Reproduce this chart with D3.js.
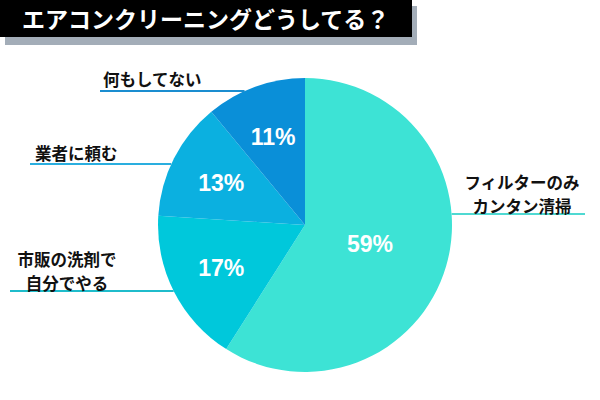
<!DOCTYPE html>
<html>
<head>
<meta charset="utf-8">
<script src="https://cdn.jsdelivr.net/npm/d3@7"></script>
<style>
  body { margin: 0; background: #fff; }
  svg { display: block; }
</style>
</head>
<body>
<svg id="chart" width="600" height="400"></svg>
<script>
// data
var title = "エアコンクリーニングどうしてる？";
var categories = [["フィルターのみ", "カンタン清掃"], ["市販の洗剤で", "自分でやる"], ["業者に頼む"], ["何もしてない"]];
var values = [59, 17, 13, 11];
var colors = ["#3de3d5", "#00c8db", "#0bb0e0", "#0a8fd8"];
var lineColors = ["#4fd9d2", "#1fbccb", "#2aaedf", "#1a8dd0"];

var width = 600,
	height = 400,
	cx = 305,
	cy = 225,
	R = 147;

var svg = d3.select("#chart");

// 1. title box with shadow
svg.append("rect")
	.attr("x", 5).attr("y", 6)
	.attr("width", 412).attr("height", 39)
	.attr("fill", "#a3adb8");
svg.append("rect")
	.attr("x", 0).attr("y", 0)
	.attr("width", 412).attr("height", 37)
	.attr("fill", "#000");
svg.append("text")
	.attr("x", 22).attr("y", 28)
	.attr("fill", "#fff")
	.style("font-family", "'Noto Sans CJK JP', sans-serif")
	.style("font-weight", "bold")
	.style("font-size", "23px")
	.text(title);

// 2. pie
var pie = d3.pie().sort(null).value(function(d) { return d; });
var arcs = pie(values);
var arc = d3.arc().innerRadius(0).outerRadius(R);

var g = svg.append("g").attr("transform", "translate(" + cx + "," + cy + ")");

g.selectAll("path")
	.data(arcs)
	.enter()
	.append("path")
	.attr("d", arc)
	.attr("fill", function(d, i) { return colors[i]; });

// 3. percent labels (big slice sits closer to the middle)
var labelArc = d3.arc().innerRadius(R * 0.64).outerRadius(R * 0.64);
var bigArc = d3.arc().innerRadius(R * 0.46).outerRadius(R * 0.46);

g.selectAll("text.pct")
	.data(arcs)
	.enter()
	.append("text")
	.attr("class", "pct")
	.attr("transform", function(d) {
		var c = d.value > 50 ? bigArc.centroid(d) : labelArc.centroid(d);
		return "translate(" + c[0] + "," + c[1] + ")";
	})
	.attr("text-anchor", "middle")
	.attr("dy", "0.36em")
	.attr("fill", "#fff")
	.style("font-family", "'Liberation Sans', Arial, sans-serif")
	.style("font-weight", "bold")
	.style("font-size", "23px")
	.text(function(d) { return d.value + "%"; });

// 4. category labels with underline leaders
function edgeX(y, side) {
	var dy = y - cy;
	var dx = Math.sqrt(Math.max(0, R * R - dy * dy));
	return side < 0 ? cx - dx : cx + dx;
}

// layout per category
var layout = [
	{ x: 522, y: 189, lineY: 214, lx: 585, side: 1, anchor: "middle" },
	{ x: 67, y: 266, lineY: 291, lx: 10, side: -1, anchor: "middle" },
	{ x: 35, y: 160, lineY: 164, lx: 30, side: -1, anchor: "start" },
	{ x: 103, y: 86, lineY: 91, lx: 100, side: -1, anchor: "start" }
];
var lineGap = 24;

categories.forEach(function(lines, i) {
	var L = layout[i];
	svg.append("line")
		.attr("x1", L.lx)
		.attr("x2", edgeX(L.lineY, L.side))
		.attr("y1", L.lineY)
		.attr("y2", L.lineY)
		.attr("stroke", lineColors[i])
		.attr("stroke-width", 2);

	lines.forEach(function(s, j) {
		svg.append("text")
			.attr("x", L.x)
			.attr("y", L.y + j * lineGap)
			.attr("text-anchor", L.anchor)
			.attr("fill", "#111")
			.style("font-family", "'Noto Sans CJK JP', sans-serif")
			.style("font-weight", "bold")
			.style("font-size", "16.5px")
			.text(s);
	});
});
</script>
</body>
</html>
